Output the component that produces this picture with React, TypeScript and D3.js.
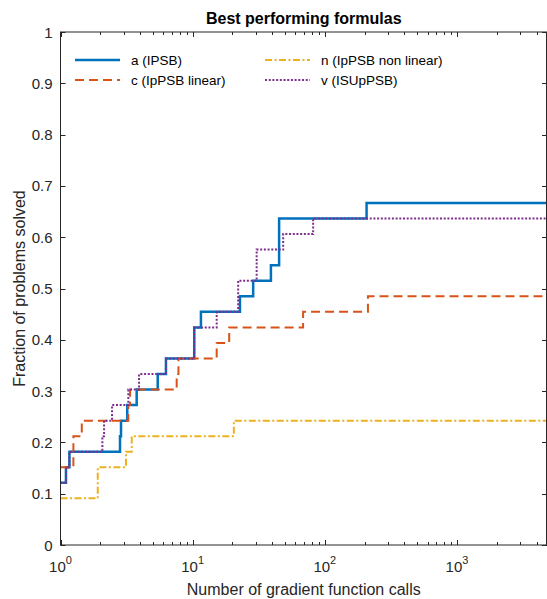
import { useEffect, useRef } from 'react';
import * as d3 from 'd3';

// step breakpoints (gradient calls) and fraction solved from each breakpoint on
const aX = [1, 1.1, 1.168, 2.82, 2.87, 3.2, 3.77, 5.44, 6.28, 10.28, 11.55, 22.8, 28.7, 39.1, 45.1, 207];
const aY = [0.1212, 0.1515, 0.1818, 0.2121, 0.2424, 0.2727, 0.303, 0.3333, 0.3636, 0.4242, 0.4545, 0.4848, 0.5152, 0.5455, 0.6364, 0.6667];

const cX = [1, 1.252, 1.449, 3.26, 3.36, 7.57, 7.81, 15.2, 18.9, 68.5, 212];
const cY = [0.1515, 0.2121, 0.2424, 0.2727, 0.303, 0.3333, 0.3636, 0.3939, 0.4242, 0.4545, 0.4848];

const nX = [1, 1.914, 3.13, 3.46, 20.5];
const nY = [0.0909, 0.1515, 0.1818, 0.2121, 0.2424];

const vX = [1, 1.1, 1.168, 2.074, 2.136, 2.455, 3.26, 3.93, 6.28, 10.28, 15.2, 22.1, 30.5, 48.4, 81.6];
const vY = [0.1212, 0.1515, 0.1818, 0.2121, 0.2424, 0.2727, 0.303, 0.3333, 0.3636, 0.4242, 0.4545, 0.5152, 0.5758, 0.6061, 0.6364];

const seriesNames = ['a (IPSB)', 'c (IpPSB linear)', 'n (IpPSB non linear)', 'v (ISUpPSB)'];
const yTicks = [0, 0.1, 0.2, 0.3, 0.4, 0.5, 0.6, 0.7, 0.8, 0.9, 1];
const xDecades = [0, 1, 2, 3];
const xMax = 4800;

const font = '"Liberation Sans", Arial, Helvetica, sans-serif';
const axisColor = '#262626';

export default function App() {
  const ref = useRef<SVGSVGElement>(null);

  useEffect(() => {
    const svg = d3.select(ref.current);
    svg.selectAll('*').remove();

    const W = 547, H = 599;
    const left = 60.5, right = 547, top = 32, bottom = 545;

    const x = d3.scaleLog().domain([1, xMax]).range([left, right]);
    const y = d3.scaleLinear().domain([0, 1]).range([bottom, top]);

    svg.append('rect').attr('width', W).attr('height', H).attr('fill', '#fff');

    // title
    svg.append('text')
      .attr('x', (left + right) / 2).attr('y', 24)
      .attr('text-anchor', 'middle')
      .style('font-family', font).style('font-size', '16px').style('font-weight', 'bold')
      .attr('fill', '#000')
      .text('Best performing formulas');

    const series = [
      { xs: aX, ys: aY, color: '#0072BD', dash: null, w: 2.5 },
      { xs: cX, ys: cY, color: '#D95319', dash: '9 5', w: 2 },
      { xs: nX, ys: nY, color: '#EDB120', dash: '7 2.5 2 2.5', w: 2 },
      { xs: vX, ys: vY, color: '#7E2F8E', dash: '2 1.7', w: 2 },
    ];

    const line = d3.line<[number, number]>()
      .x(d => x(d[0]))
      .y(d => y(d[1]))
      .curve(d3.curveStepAfter);

    const plot = svg.append('g');
    series.forEach(s => {
      const pts: [number, number][] = s.xs.map((v, i) => [v, s.ys[i]]);
      pts.push([xMax, s.ys[s.ys.length - 1]]);
      const p = plot.append('path')
        .attr('d', line(pts))
        .attr('fill', 'none')
        .attr('stroke', s.color)
        .attr('stroke-width', s.w);
      if (s.dash) p.attr('stroke-dasharray', s.dash);
    });

    // axes box
    const ax = svg.append('g').attr('stroke', axisColor).attr('stroke-width', 1).attr('fill', 'none');
    ax.append('rect').attr('x', left).attr('y', top).attr('width', right - left - 0.5).attr('height', bottom - top);

    // y ticks
    yTicks.forEach(t => {
      const yy = Math.round(y(t)) + 0.5;
      ax.append('line').attr('x1', left).attr('x2', left + 5).attr('y1', yy).attr('y2', yy);
      ax.append('line').attr('x1', right).attr('x2', right - 5).attr('y1', yy).attr('y2', yy);
      svg.append('text')
        .attr('x', left - 8).attr('y', y(t))
        .attr('text-anchor', 'end').attr('dominant-baseline', 'central')
        .style('font-family', font).style('font-size', '15px')
        .attr('fill', axisColor)
        .text(String(t));
    });

    // x ticks (log)
    xDecades.forEach(dec => {
      const base = Math.pow(10, dec);
      for (let m = 1; m <= 9; m++) {
        const v = base * m;
        if (v > xMax) break;
        const xx = Math.round(x(v)) + 0.5;
        const len = m === 1 ? 5 : 3;
        ax.append('line').attr('x1', xx).attr('x2', xx).attr('y1', bottom).attr('y2', bottom - len);
        ax.append('line').attr('x1', xx).attr('x2', xx).attr('y1', top).attr('y2', top + len);
      }
      const lbl = svg.append('text')
        .attr('x', x(base)).attr('y', 572)
        .attr('text-anchor', 'middle')
        .style('font-family', font).style('font-size', '15px')
        .attr('fill', axisColor);
      lbl.append('tspan').text('10');
      lbl.append('tspan').attr('dy', -8).style('font-size', '11px').text(String(dec));
    });

    // axis labels
    svg.append('text')
      .attr('x', (left + right) / 2).attr('y', 595)
      .attr('text-anchor', 'middle')
      .style('font-family', font).style('font-size', '16px')
      .attr('fill', axisColor)
      .text('Number of gradient function calls');

    svg.append('text')
      .attr('transform', `translate(19,${(top + bottom) / 2}) rotate(-90)`)
      .attr('text-anchor', 'middle').attr('dominant-baseline', 'central')
      .style('font-family', font).style('font-size', '16px')
      .attr('fill', axisColor)
      .text('Fraction of problems solved');

    // legend (no box)
    const legendPos = [
      { lx: 75, ly: 60 },
      { lx: 75, ly: 80 },
      { lx: 265, ly: 60 },
      { lx: 265, ly: 80 },
    ];
    series.forEach((s, i) => {
      const { lx, ly } = legendPos[i];
      const l = svg.append('line')
        .attr('x1', lx).attr('x2', lx + 45).attr('y1', ly).attr('y2', ly)
        .attr('stroke', s.color).attr('stroke-width', s.w);
      if (s.dash) l.attr('stroke-dasharray', s.dash);
      svg.append('text')
        .attr('x', lx + 56).attr('y', ly)
        .attr('dominant-baseline', 'central')
        .style('font-family', font).style('font-size', '13.5px')
        .attr('fill', '#000')
        .text(seriesNames[i]);
    });
  }, []);

  return (
    <svg ref={ref} width={547} height={599}
      style={{ position: 'absolute', left: 0, top: 0, display: 'block' }} />
  );
}
